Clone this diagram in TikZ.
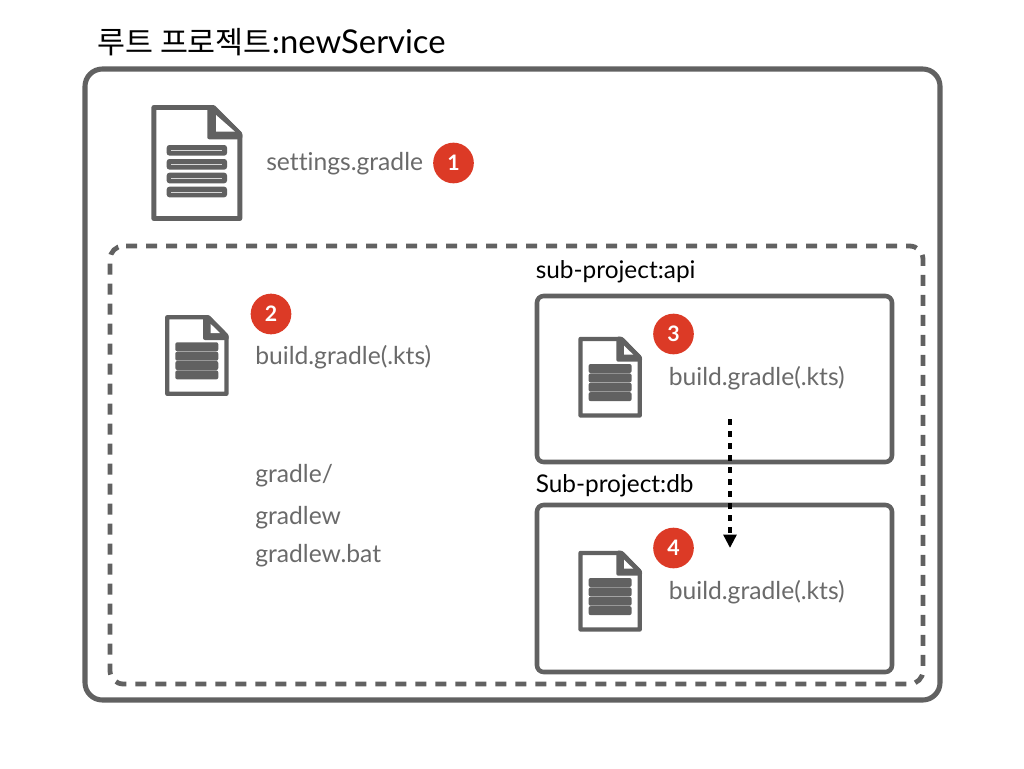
\documentclass[tikz,border=0pt]{standalone}
\usepackage{fontspec}
\setmainfont[Ligatures=NoCommon]{Lato}
\newfontfamily\cjk{Noto Sans CJK KR}
\usetikzlibrary{arrows.meta}
\definecolor{frameg}{HTML}{616161}
\definecolor{textg}{HTML}{6A6A6A}
\definecolor{badge}{HTML}{DC3A26}
\tikzset{
 x=0.75pt,y=-0.75pt,
 framebox/.style={draw=frameg,line width=3.8pt,rounded corners=13pt},
 dashbox/.style={draw=frameg,line width=3.6pt,rounded corners=10pt,dash pattern=on 8.25pt off 6.75pt},
 subbox/.style={draw=frameg,line width=3.4pt,rounded corners=5pt},
 filetext/.style={text=textg,font=\fontsize{18.5}{22}\selectfont,anchor=base west,inner sep=0pt},
 subtitle/.style={text=black,font=\fontsize{18.3}{22}\selectfont,anchor=base west,inner sep=0pt},
 numbadge/.style={circle,fill=badge,text=white,minimum size=30.5pt,inner sep=0pt,font=\fontsize{16}{18}\bfseries\selectfont},
 pics/docbig/.style={code={
  \draw[frameg,line width=3.7pt,line join=round] (2.5,2.5)--(62,2.5)--(88.5,29)--(88.5,113.5)--(2.5,113.5)--cycle;
  \fill[frameg,rounded corners=1.5pt] (56,0)--(62,0)--(91,28)--(91,34.3)--(56,34.3)--cycle;
  \fill[white] (64.7,10)--(83.7,26.7)--(64.7,26.7)--cycle;
  \foreach \yy in {40,54,67.7,81.7}{
   \fill[frameg,rounded corners=2pt] (15.4,\yy) rectangle (75.7,\yy+10.6);
   \draw[white!75!frameg,line width=.5pt] (20,\yy+5.3)--(71,\yy+5.3);}
 }},
 pics/docsmall/.style={code={
  \draw[frameg,line width=3.2pt,line join=round] (2.2,2.2)--(43,2.2)--(61.5,21)--(61.5,78.8)--(2.2,78.8)--cycle;
  \fill[frameg,rounded corners=1.5pt] (38,0)--(44,0)--(63.7,20)--(63.7,25)--(38,25)--cycle;
  \fill[white] (45.7,9)--(55,18)--(45.7,18)--cycle;
  \foreach \yy in {27.3,36.7,46,55.4}{
   \fill[frameg,rounded corners=1.5pt] (10.3,\yy) rectangle (53.3,\yy+9);}
 }}
}
\begin{document}
\begin{tikzpicture}
\useasboundingbox (0,0) rectangle (1024,768);
\draw[framebox] (85,69) rectangle (940,700);
\draw[dashbox] (126,246) -- (923,246) -- (923,684) -- (110,684) -- (110,246) -- (126,246);
\draw[subbox] (537,296) rectangle (892,462);
\draw[subbox] (537,505) rectangle (892,672);

\node[anchor=base west,inner sep=0pt,text=black,font=\fontsize{24.6}{28}\selectfont] (title) at (97,53) {{\cjk\fontsize{22.8}{28}\selectfont 루트 프로젝트}:newService};

\pic at (151.3,105) {docbig};
\pic at (165,315) {docsmall};
\pic at (578.3,336.7) {docsmall};
\pic at (578.3,550.7) {docsmall};

\node[filetext] (settings) at (266,170) {settings.gradle};
\node[filetext] (rootbuild) at (255,364) {build.gradle(.kts)};
\node[filetext] (gradledir) at (255,482) {gradle/};
\node[filetext] (gradlew) at (255,524) {gradlew};
\node[filetext] (gradlewbat) at (255,562) {gradlew.bat};
\node[filetext] (apibuild) at (668.5,385) {build.gradle(.kts)};
\node[filetext] (dbbuild) at (668.5,599) {build.gradle(.kts)};
\node[subtitle] (apititle) at (535.5,278) {sub-project:api};
\node[subtitle] (dbtitle) at (535.5,492) {Sub-project:db};

\node[numbadge] (b1) at (453.5,163) {1};
\node[numbadge] (b2) at (271,314) {2};
\node[numbadge] (b3) at (673.5,334) {3};
\node[numbadge] (b4) at (673.5,548) {4};

\coordinate (arrowstart) at (730,419);
\coordinate (arrowend) at (730,548);
\draw[black,line width=2.5pt,dash pattern=on 4.5pt off 4.5pt,-{Triangle[width=9.5pt,length=10pt]}] (arrowstart) -- (arrowend);
\end{tikzpicture}
\end{document}
